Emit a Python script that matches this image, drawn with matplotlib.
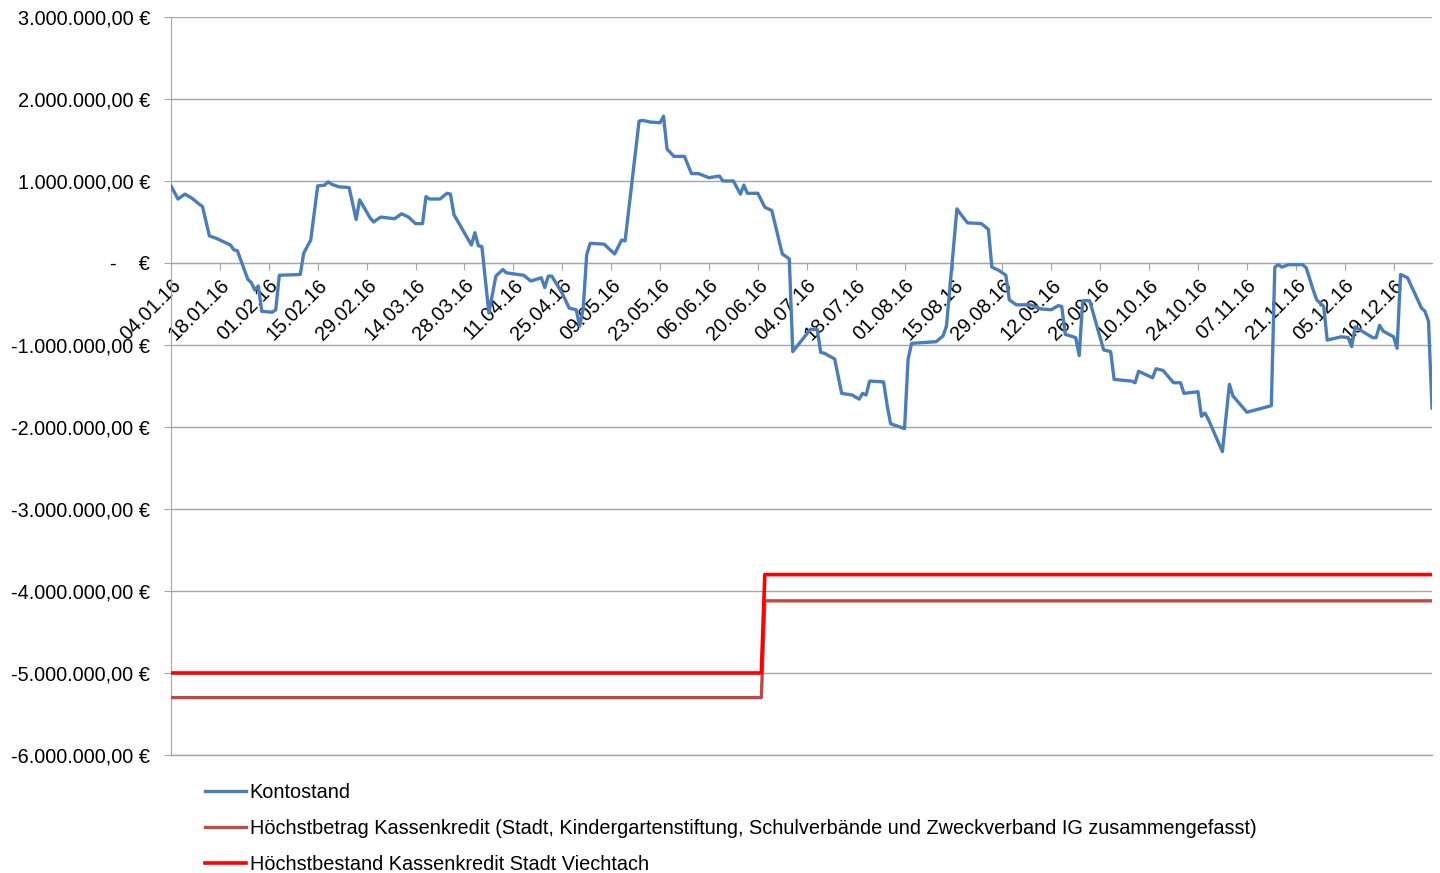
import matplotlib
matplotlib.use("Agg")
import matplotlib.pyplot as plt
import matplotlib.dates as mdates
from matplotlib.ticker import FixedLocator, FuncFormatter
import pandas as pd

plt.rcParams['font.family'] = ['Liberation Sans', 'DejaVu Sans']

kontostand_dates = [
    "2016-01-04", "2016-01-06", "2016-01-08", "2016-01-10", "2016-01-12", "2016-01-13",
    "2016-01-15", "2016-01-17", "2016-01-19", "2016-01-21", "2016-01-22", "2016-01-23",
    "2016-01-26", "2016-01-27", "2016-01-28", "2016-01-29", "2016-01-30", "2016-02-02",
    "2016-02-03", "2016-02-04", "2016-02-10", "2016-02-11", "2016-02-13", "2016-02-15",
    "2016-02-17", "2016-02-18", "2016-02-19", "2016-02-21", "2016-02-24", "2016-02-26",
    "2016-02-27", "2016-03-01", "2016-03-02", "2016-03-04", "2016-03-08", "2016-03-10",
    "2016-03-12", "2016-03-14", "2016-03-16", "2016-03-17", "2016-03-18", "2016-03-21",
    "2016-03-23", "2016-03-24", "2016-03-25", "2016-03-30", "2016-03-31", "2016-04-01",
    "2016-04-02", "2016-04-04", "2016-04-06", "2016-04-08", "2016-04-09", "2016-04-14",
    "2016-04-16", "2016-04-19", "2016-04-20", "2016-04-21", "2016-04-22", "2016-04-25",
    "2016-04-27", "2016-04-29", "2016-04-30", "2016-05-01", "2016-05-02", "2016-05-03",
    "2016-05-07", "2016-05-10", "2016-05-12", "2016-05-13", "2016-05-17", "2016-05-18",
    "2016-05-20", "2016-05-23", "2016-05-24", "2016-05-25", "2016-05-27", "2016-05-30",
    "2016-06-01", "2016-06-03", "2016-06-06", "2016-06-09", "2016-06-10", "2016-06-13",
    "2016-06-15", "2016-06-16", "2016-06-17", "2016-06-20", "2016-06-22", "2016-06-24",
    "2016-06-27", "2016-06-29", "2016-06-30", "2016-07-03", "2016-07-05", "2016-07-07",
    "2016-07-08", "2016-07-09", "2016-07-12", "2016-07-14", "2016-07-17", "2016-07-19",
    "2016-07-20", "2016-07-21", "2016-07-22", "2016-07-26", "2016-07-27", "2016-07-28",
    "2016-07-30", "2016-08-01", "2016-08-02", "2016-08-03", "2016-08-10", "2016-08-12",
    "2016-08-13", "2016-08-16", "2016-08-17", "2016-08-19", "2016-08-23", "2016-08-25",
    "2016-08-26", "2016-08-28", "2016-08-30", "2016-08-31", "2016-09-02", "2016-09-06",
    "2016-09-09", "2016-09-12", "2016-09-14", "2016-09-15", "2016-09-16", "2016-09-19",
    "2016-09-20", "2016-09-21", "2016-09-23", "2016-09-27", "2016-09-29", "2016-09-30",
    "2016-10-05", "2016-10-06", "2016-10-07", "2016-10-11", "2016-10-12", "2016-10-14",
    "2016-10-17", "2016-10-19", "2016-10-20", "2016-10-24", "2016-10-25", "2016-10-26",
    "2016-10-27", "2016-10-31", "2016-11-02", "2016-11-03", "2016-11-07", "2016-11-14",
    "2016-11-15", "2016-11-16", "2016-11-17", "2016-11-19", "2016-11-23", "2016-11-24",
    "2016-11-26", "2016-11-27", "2016-11-29", "2016-11-30", "2016-12-04", "2016-12-06",
    "2016-12-07", "2016-12-08", "2016-12-13", "2016-12-14", "2016-12-15", "2016-12-16",
    "2016-12-19", "2016-12-20", "2016-12-21", "2016-12-23", "2016-12-27", "2016-12-28",
    "2016-12-29", "2016-12-30",
]

kontostand_values = [
    940000, 780000, 840000, 790000, 720000, 690000,
    330000, 300000, 260000, 220000, 160000, 150000,
    -200000, -240000, -330000, -280000, -590000, -600000,
    -570000, -150000, -140000, 120000, 280000, 940000,
    950000, 990000, 960000, 930000, 920000, 530000,
    770000, 550000, 500000, 560000, 540000, 600000,
    560000, 480000, 480000, 810000, 780000, 780000,
    850000, 840000, 590000, 220000, 370000, 210000,
    200000, -610000, -160000, -80000, -120000, -150000,
    -220000, -180000, -300000, -160000, -160000, -370000,
    -550000, -570000, -770000, -560000, 100000, 240000,
    230000, 110000, 280000, 270000, 1730000, 1740000,
    1720000, 1710000, 1790000, 1390000, 1300000, 1300000,
    1090000, 1090000, 1040000, 1060000, 1000000, 1000000,
    840000, 950000, 850000, 850000, 680000, 640000,
    110000, 50000, -1080000, -920000, -810000, -810000,
    -1090000, -1100000, -1170000, -1590000, -1610000, -1660000,
    -1590000, -1610000, -1440000, -1450000, -1730000, -1960000,
    -1990000, -2020000, -1180000, -980000, -960000, -890000,
    -770000, 660000, 600000, 490000, 480000, 410000,
    -50000, -90000, -150000, -450000, -510000, -510000,
    -560000, -570000, -520000, -530000, -870000, -910000,
    -1130000, -460000, -460000, -1060000, -1080000, -1420000,
    -1440000, -1460000, -1320000, -1400000, -1290000, -1310000,
    -1460000, -1460000, -1590000, -1570000, -1870000, -1830000,
    -1910000, -2300000, -1480000, -1620000, -1820000, -1740000,
    -50000, -20000, -50000, -20000, -20000, -60000,
    -330000, -450000, -530000, -940000, -900000, -910000,
    -1020000, -780000, -910000, -910000, -760000, -830000,
    -900000, -1040000, -140000, -180000, -550000, -590000,
    -710000, -1770000,
]

limit_dates = ["2016-01-04", "2016-06-21", "2016-06-22", "2016-12-30"]
hoechstbetrag_values = [-5300000, -5300000, -4120000, -4120000]
hoechstbestand_values = [-5000000, -5000000, -3800000, -3800000]

series_labels = [
    "Kontostand",
    "Höchstbetrag Kassenkredit (Stadt, Kindergartenstiftung, Schulverbände und Zweckverband IG zusammengefasst)",
    "Höchstbestand Kassenkredit Stadt Viechtach",
]
series_colors = ["#4A7EBB", "#BE4B48", "#FF0000"]

y_ticks = [3000000, 2000000, 1000000, 0, -1000000, -2000000, -3000000,
           -4000000, -5000000, -6000000]
x_tick_dates = pd.date_range("2016-01-04", "2016-12-19", freq="14D")

FS = 14.3


def euro_fmt(v, pos=None):
    if abs(v) < 0.5:
        return "-    €"
    s = f"{abs(v):,.2f}".replace(",", "X").replace(".", ",").replace("X", ".")
    return ("-" if v < 0 else "") + s + " €"


fig = plt.figure(figsize=(14.4, 8.73), dpi=100)
ax = fig.add_axes([171 / 1440, 1 - 755 / 873, (1432 - 171) / 1440, (755 - 17) / 873])

kd = pd.to_datetime(kontostand_dates)
ld = pd.to_datetime(limit_dates)

ax.plot(kd, kontostand_values, color=series_colors[0], lw=2.4,
        solid_joinstyle='round', label=series_labels[0], zorder=4)
ax.plot(ld, hoechstbetrag_values, color=series_colors[1], lw=2.4,
        label=series_labels[1], zorder=3)
ax.plot(ld, hoechstbestand_values, color=series_colors[2], lw=2.6,
        label=series_labels[2], zorder=3)

ax.set_xlim(pd.Timestamp("2016-01-04"), pd.Timestamp("2016-12-30"))
ax.set_ylim(-6000000, 3000000)

ax.yaxis.set_major_locator(FixedLocator(y_ticks))
ax.yaxis.set_major_formatter(FuncFormatter(euro_fmt))
ax.grid(axis='y', color='#A6A6A6', lw=1.0, zorder=0)
ax.set_axisbelow(True)
ax.axhline(y_ticks[-1], color='#A6A6A6', lw=1.0, zorder=0, clip_on=False)

ax.xaxis.set_major_locator(FixedLocator(mdates.date2num(x_tick_dates)))
ax.xaxis.set_major_formatter(mdates.DateFormatter("%d.%m.%y"))

for s in ['top', 'right']:
    ax.spines[s].set_visible(False)
ax.spines['left'].set_color('#A6A6A6')
ax.spines['bottom'].set_color('#A6A6A6')
ax.spines['bottom'].set_position(('data', 0))
ax.spines['bottom'].set_zorder(1)

ax.tick_params(axis='y', direction='out', length=5, color='#A6A6A6',
               labelsize=FS, pad=10, labelcolor='black')
ax.tick_params(axis='x', direction='out', length=5, color='#A6A6A6',
               labelsize=FS, pad=4, labelcolor='black')
for lab in ax.get_xticklabels():
    lab.set_rotation(45)
    lab.set_rotation_mode('anchor')
    lab.set_ha('right')
    lab.set_va('top')

fig.legend(loc='upper left', bbox_to_anchor=(205 / 1440, 1 - 783 / 873),
           frameon=False, fontsize=FS, handlelength=2.05, handletextpad=0.2,
           labelspacing=0.85, borderaxespad=0, borderpad=0)

fig.savefig("out.png", dpi=100)
